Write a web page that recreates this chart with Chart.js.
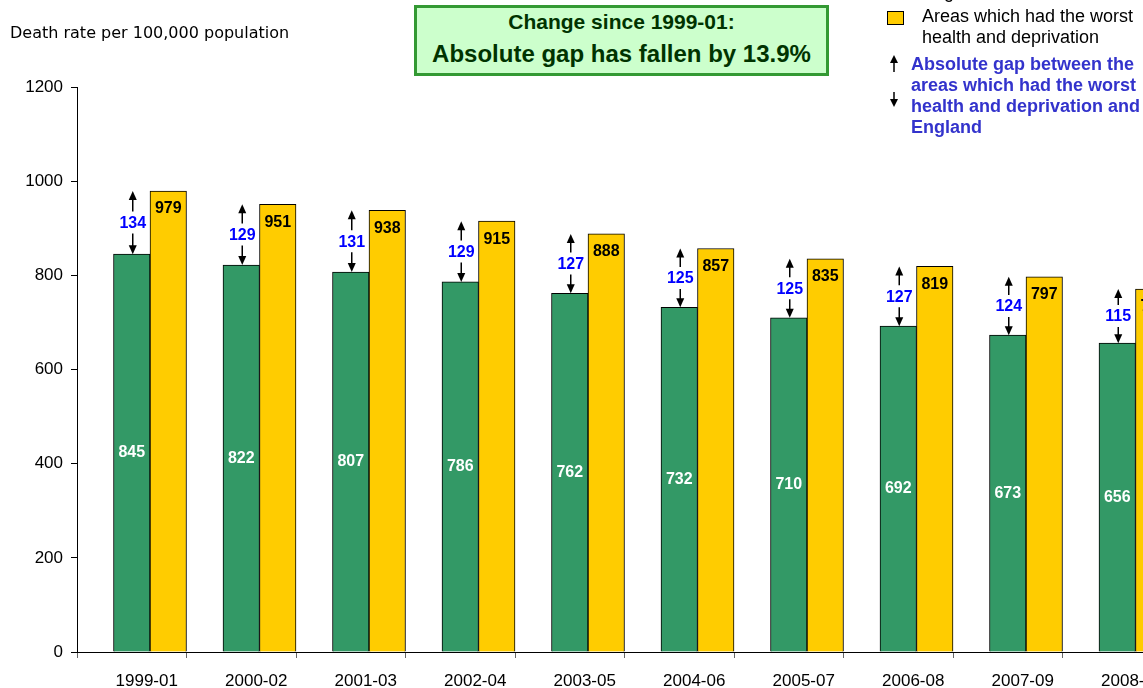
<!DOCTYPE html>
<html>
<head>
<meta charset="utf-8">
<script src="https://cdn.jsdelivr.net/npm/chart.js@4"></script>
<style>
  body { margin: 0; width: 1143px; height: 688px; overflow: hidden; background: #fff; position: relative; }
  #wrap { position: absolute; left: 0; top: 0; width: 1180px; height: 688px; }
  .yTitle { position: absolute; left: 10px; top: 23px; font: 16px "DejaVu Sans", sans-serif; color: #000; white-space: nowrap; }
  .box { position: absolute; left: 414px; top: 5px; width: 409px; height: 65px; border: 3px solid #339933; background: #ccffcc;
         color: #003300; font-family: "Liberation Sans", Arial, sans-serif; font-weight: bold; text-align: center; }
  .box .l1 { position: absolute; left: 0; right: 0; top: 3px; font-size: 21px; line-height: 22px; }
  .box .l2 { position: absolute; left: 0; right: 0; top: 32px; font-size: 24px; line-height: 28px; }
  .leg { position: absolute; font: 18px "Liberation Sans", Arial, sans-serif; line-height: 21px; white-space: nowrap; }
  .sw { position: absolute; width: 15px; height: 12px; border: 1px solid #000; }
  .gapTxt { color: #3333cc; font-weight: bold; }
</style>
</head>
<body>
<div id="wrap"><canvas id="chartGap" width="1180" height="688"></canvas></div>

<div class="yTitle">Death rate per 100,000 population</div>

<div class="box">
  <div class="l1">Change since 1999-01:</div>
  <div class="l2">Absolute gap has fallen by 13.9%</div>
</div>

<!-- legende -->
<div class="sw" style="left:887px; top:-14px; background:#339966"></div>
<div class="leg" style="left:922px; top:-18px">England</div>
<div class="sw" style="left:887px; top:11px; background:#ffcc00"></div>
<div class="leg" style="left:922px; top:6px">Areas which had the worst<br>health and deprivation</div>
<svg style="position:absolute; left:888px; top:54px" width="12" height="56">
  <line x1="6" y1="4" x2="6" y2="18" stroke="#000" stroke-width="1.5"/>
  <polygon points="2,9 6,1 10,9" fill="#000"/>
  <line x1="6" y1="38" x2="6" y2="50" stroke="#000" stroke-width="1.5"/>
  <polygon points="2,45 6,53 10,45" fill="#000"/>
</svg>
<div class="leg gapTxt" style="left:911px; top:54px">Absolute gap between the<br>areas which had the worst<br>health and deprivation and<br>England</div>

<script>
// Taux de mortalité pour 100 000 habitants, par période de 3 ans
const periodes    = ['1999-01', '2000-02', '2001-03', '2002-04', '2003-05', '2004-06', '2005-07', '2006-08', '2007-09', '2008-10'];
const england     = [845, 822, 807, 786, 762, 732, 710, 692, 673, 656];
const worstAreas  = [979, 951, 938, 915, 888, 857, 835, 819, 797, 771];
const gapLabels   = [134, 129, 131, 129, 127, 125, 125, 127, 124, 115];
const yTicks      = [0, 200, 400, 600, 800, 1000, 1200];

const FONT = '"Liberation Sans", Arial, sans-serif';

// Petite flèche verticale (tige + pointe)
function arrow(ctx, x, yFrom, yTo) {
    const dir = yTo < yFrom ? -1 : 1;
    ctx.beginPath();
    ctx.moveTo(x, yFrom);
    ctx.lineTo(x, yTo - dir * 6);
    ctx.stroke();
    ctx.beginPath();
    ctx.moveTo(x, yTo);
    ctx.lineTo(x - 4, yTo - dir * 9);
    ctx.lineTo(x + 4, yTo - dir * 9);
    ctx.closePath();
    ctx.fill();
}

// Valeurs dans les barres + écart avec flèches
const barLabels = {
    id: 'barLabels',
    afterDatasetsDraw(chart) {
        const ctx = chart.ctx;
        const yScale = chart.scales.y;
        const green = chart.getDatasetMeta(1).data;
        const yellow = chart.getDatasetMeta(2).data;
        ctx.save();
        ctx.font = 'bold 16px ' + FONT;
        ctx.textAlign = 'center';
        ctx.textBaseline = 'middle';
        green.forEach((bar, i) => {
            ctx.fillStyle = '#fff';
            ctx.fillText(england[i], bar.x, (bar.y + bar.base) / 2);

            const yb = yellow[i];
            ctx.fillStyle = '#000';
            ctx.fillText(worstAreas[i], yb.x, yb.y + 18);

            // écart : de la barre verte jusqu'au niveau de la barre jaune
            const top = yScale.getPixelForValue(worstAreas[i]);
            const bot = bar.y;
            const mid = (top + bot) / 2;
            ctx.fillStyle = '#0000ff';
            ctx.fillText(gapLabels[i], bar.x + 1, mid + 1);
            ctx.fillStyle = '#000';
            ctx.strokeStyle = '#000';
            ctx.lineWidth = 1.5;
            arrow(ctx, bar.x + 1, mid - 11, top);
            arrow(ctx, bar.x + 1, mid + 11, bot);
        });
        ctx.restore();
    }
};

new Chart(document.getElementById('chartGap'), {
    type: 'bar',
    data: {
        labels: periodes,
        datasets: [
            {
                // emplacement vide à gauche de chaque groupe
                label: 'vide',
                data: periodes.map(() => null),
            },
            {
                label: 'England',
                data: england,
                backgroundColor: '#339966',
                borderColor: '#000',
                borderWidth: 1,
                borderSkipped: 'bottom',
            },
            {
                label: 'Areas which had the worst health and deprivation',
                data: worstAreas,
                backgroundColor: '#ffcc00',
                borderColor: '#000',
                borderWidth: 1,
                borderSkipped: 'bottom',
            }
        ]
    },
    options: {
        responsive: false,
        animation: false,
        devicePixelRatio: 1,
        categoryPercentage: 1.0,
        barPercentage: 1.0,
        layout: { padding: { top: 87, right: 8, bottom: 0, left: 0 } },
        plugins: {
            legend: { display: false },
            tooltip: { enabled: false },
        },
        scales: {
            x: {
                grid: { offset: true, drawOnChartArea: false, drawTicks: true, tickLength: 6, color: '#666' },
                border: { display: true, color: '#000', width: 1 },
                ticks: { color: '#000', font: { family: FONT, size: 17 }, padding: 13, labelOffset: 15, maxRotation: 0 },
                afterFit: scale => { scale.height = 36; },
            },
            y: {
                min: 0,
                max: 1200,
                afterBuildTicks: scale => { scale.ticks = yTicks.map(v => ({ value: v })); },
                grid: { drawOnChartArea: false, drawTicks: true, tickLength: 6, color: '#000' },
                border: { display: true, color: '#000', width: 1 },
                ticks: { color: '#000', font: { family: FONT, size: 17 }, padding: 8, callback: v => String(v) },
                afterFit: scale => { scale.width = 77; },
            }
        }
    },
    plugins: [barLabels]
});
</script>
</body>
</html>
